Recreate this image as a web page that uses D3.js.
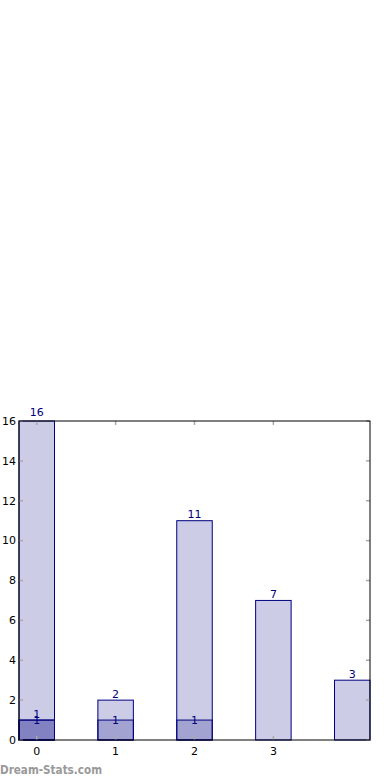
<!DOCTYPE html>
<html><head><meta charset="utf-8">
<script src="https://cdn.jsdelivr.net/npm/d3@7"></script>
<style>body{margin:0;background:#fff}svg{display:block}text{font-family:"DejaVu Sans",sans-serif}</style>
</head><body><svg id="c" width="390" height="780"></svg>
<script>
const categories = [0, 1, 2, 3, 4];
const xTickLabels = ["0", "1", "2", "3"];
const seriesA = [16, 2, 11, 7, 3];
const seriesB = [1, 1, 1, 0, 0];
const seriesC = [1, 0, 0, 0, 0];
const yTicks = [0, 2, 4, 6, 8, 10, 12, 14, 16];

const svg = d3.select("#c");
const L = 19, R = 370, T = 421, B = 740;
const bw = 0.45;
const x = d3.scaleLinear().domain([-0.225, 4.225]).range([L, R]);
const y = d3.scaleLinear().domain([0, 16]).range([B, T]);
const fill = "rgba(0,0,128,0.2)", stroke = "#000080";

function drawSeries(vals, labelMode) {
  const g = svg.append("g");
  categories.forEach((c, i) => {
    const v = vals[i];
    if (!v) return;
    g.append("rect").attr("x", x(c - bw / 2)).attr("y", y(v))
      .attr("width", x(c + bw / 2) - x(c - bw / 2)).attr("height", y(0) - y(v))
      .attr("fill", fill).attr("stroke", stroke).attr("stroke-width", 1);
    const t = g.append("text").attr("x", x(c)).attr("text-anchor", "middle")
      .attr("font-size", 11).attr("fill", stroke).text(v);
    if (labelMode === "center") t.attr("y", y(v)).attr("dy", "0.35em");
    else t.attr("y", y(v) - (v === 16 ? 5 : 2.5));
  });
}
drawSeries(seriesA, "bottom");
drawSeries(seriesB, "center");
drawSeries(seriesC, "bottom");

// ticks
const tk = svg.append("g").attr("stroke", "#aaa").attr("stroke-width", 1.5);
yTicks.forEach(v => {
  tk.append("line").attr("x1", L).attr("x2", L + 4).attr("y1", y(v)).attr("y2", y(v));
  tk.append("line").attr("x1", R - 4).attr("x2", R).attr("y1", y(v)).attr("y2", y(v));
});
xTickLabels.forEach((s, i) => {
  tk.append("line").attr("x1", x(i)).attr("x2", x(i)).attr("y1", B).attr("y2", B - 4);
  tk.append("line").attr("x1", x(i)).attr("x2", x(i)).attr("y1", T).attr("y2", T + 4);
});
// frame
svg.append("rect").attr("x", L).attr("y", T).attr("width", R - L).attr("height", B - T)
  .attr("fill", "none").attr("stroke", "#000").attr("stroke-width", 1);

// tick labels
yTicks.forEach(v => {
  svg.append("text").attr("x", L - 3).attr("y", y(v)).attr("dy", "0.35em")
    .attr("text-anchor", "end").attr("font-size", 11).attr("fill", "#000").text(v);
});
xTickLabels.forEach((s, i) => {
  svg.append("text").attr("x", x(i)).attr("y", B + 15).attr("text-anchor", "middle")
    .attr("font-size", 11).attr("fill", "#000").text(s);
});

svg.append("text").attr("x", 0).attr("y", 774).attr("font-size", 12).attr("font-weight", "600")
  .attr("textLength", 102).attr("lengthAdjust", "spacingAndGlyphs")
  .attr("fill", "#999").text("Dream-Stats.com");
</script></body></html>
